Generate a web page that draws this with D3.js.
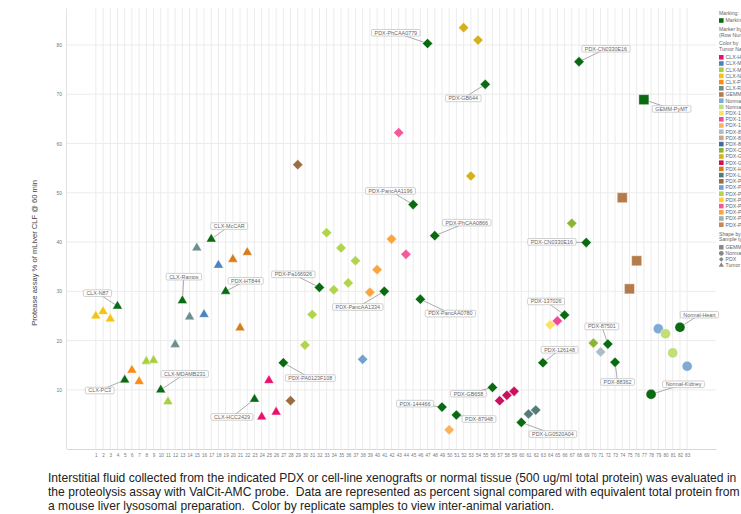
<!DOCTYPE html>
<html>
<head>
<meta charset="utf-8">
<script src="https://cdn.jsdelivr.net/npm/d3@7"></script>
<style>
  body { margin: 0; background: #fff; }
  text { font-family: "Liberation Sans", Arial, sans-serif; }
</style>
</head>
<body>
<script>
// row numbers on the x axis
const rowNums = d3.range(1, 84);

// protease assay value per row (% of mLiver CLF @ 60 min)
const values = [
  25.0, 25.9, 24.4, 27.0, 12.0, 14.0, 11.7, 15.8, 16.0, 10.0,
  7.6, 19.2, 28.1, 24.8, 38.8, 25.3, 40.6, 35.3, 30.0, 36.5,
  22.6, 37.9, 8.1, 4.5, 11.9, 5.5, 15.5, 7.8, 55.7, 19.1,
  25.3, 30.8, 41.9, 30.3, 38.8, 31.7, 36.2, 16.2, 29.8, 34.4,
  30.0, 40.6, 62.2, 37.5, 47.6, 28.4, 80.3, 41.3, 6.5, 1.9,
  4.9, 83.5, 53.4, 81.0, 72.0, 10.5, 7.8, 8.9, 9.7, 3.4,
  5.1, 5.9, 15.5, 23.2, 24.0, 25.2, 43.8, 76.6, 39.9, 19.5,
  17.7, 19.3, 15.6, 49.0, 30.5, 36.2, 68.9, 9.1, 22.4, 21.4,
  17.5, 22.7, 14.8
];

// legend order of tumor names and their colours
const tumorNames = [
  "CLX-HCC2429", "CLX-McCAR", "CLX-MDAMB231", "CLX-N87", "CLX-PC3", "CLX-Ramos",
  "GEMM-PyMT", "Normal-Heart", "Normal-Kidney", "PDX-126148", "PDX-137026",
  "PDX-144466", "PDX-87501", "PDX-87948", "PDX-88362", "PDX-CN0330E16",
  "PDX-GB644", "PDX-GB658", "PDX-HT844", "PDX-LG0520A04", "PDX-PA0123F108",
  "PDX-Pa166926", "PDX-PancAA0780", "PDX-PancAA1196", "PDX-PancAA1334",
  "PDX-PhCAA0779", "PDX-PhCAA0866", "PDX-PhCAA0998"
];
const tumorColors = [
  "#e8126e", "#4a83c2", "#a8d03e", "#f3c512", "#fa8c14", "#6b8f8d",
  "#b57b4a", "#80aad6", "#c2de78", "#fbe064", "#f2479b",
  "#fbb25e", "#a9bec6", "#c9a687", "#3e6ca8", "#8cb536",
  "#d5b21c", "#c9115e", "#d87b1a", "#557b79", "#9c6c42",
  "#72a0d2", "#b0d44c", "#f7d327", "#f5589c",
  "#f9a43c", "#9cb2b4", "#c38a5a"
];

// tumor of each row
const rowTumor = [
  "CLX-N87", "CLX-N87", "CLX-N87", "CLX-N87",
  "CLX-PC3", "CLX-PC3", "CLX-PC3",
  "CLX-MDAMB231", "CLX-MDAMB231", "CLX-MDAMB231", "CLX-MDAMB231",
  "CLX-Ramos", "CLX-Ramos", "CLX-Ramos", "CLX-Ramos",
  "CLX-McCAR", "CLX-McCAR", "CLX-McCAR",
  "PDX-HT844", "PDX-HT844", "PDX-HT844", "PDX-HT844",
  "CLX-HCC2429", "CLX-HCC2429", "CLX-HCC2429", "CLX-HCC2429",
  "PDX-PA0123F108", "PDX-PA0123F108", "PDX-PA0123F108",
  "PDX-PancAA0780", "PDX-PancAA0780", "PDX-Pa166926", "PDX-PancAA0780",
  "PDX-PancAA0780", "PDX-PancAA0780", "PDX-PancAA0780", "PDX-PancAA0780",
  "PDX-Pa166926", "PDX-PhCAA0779", "PDX-PhCAA0779", "PDX-PancAA1334",
  "PDX-PhCAA0779", "PDX-PancAA1334", "PDX-PancAA1334", "PDX-PancAA1196",
  "PDX-PancAA0780", "PDX-PhCAA0779", "PDX-PhCAA0866",
  "PDX-144466", "PDX-144466", "PDX-87948",
  "PDX-GB644", "PDX-GB644", "PDX-GB644", "PDX-GB644",
  "PDX-GB658", "PDX-GB658", "PDX-GB658", "PDX-GB658",
  "PDX-LG0520A04", "PDX-LG0520A04", "PDX-LG0520A04",
  "PDX-126148", "PDX-126148", "PDX-137026", "PDX-137026",
  "PDX-CN0330E16", "PDX-CN0330E16", "PDX-CN0330E16", "PDX-CN0330E16",
  "PDX-87501", "PDX-87501", "PDX-88362",
  "GEMM-PyMT", "GEMM-PyMT", "GEMM-PyMT", "GEMM-PyMT",
  "Normal-Kidney", "Normal-Heart", "Normal-Kidney", "Normal-Kidney",
  "Normal-Heart", "Normal-Heart"
];

// sample type of each row: T = Tumor, P = PDX, G = GEMM, N = Normal
const rowSample = (
  "TTTTTTTTTTTTTTTTTTTTTTTTTT" +
  "PPPPPPPPPPPPPPPPPPPPPPPPPPPPPPPPPPPPPPPPPPPPPPP" +
  "GGGG" + "NNNNNN").split("");

const sampleTypes = ["GEMM", "Normal", "PDX", "Tumor"];

// marked rows (drawn dark green, with a label)
const markedRows = [4, 5, 10, 13, 17, 19, 23, 27, 32, 41, 45, 46, 47, 48, 49, 51,
  55, 56, 60, 63, 66, 68, 69, 72, 73, 77, 78, 82];

// label box offsets from the marker, in px (layout only)
const labelOffset = {
  4: [-20, -13], 5: [-25, 10.5], 10: [24, -16], 13: [1.5, -24], 17: [18, -13],
  19: [20, -10.5], 23: [-22.5, 17.7], 27: [27, 15.3], 32: [-26, -13], 41: [-26.5, 15.7],
  45: [-22.7, -13.7], 46: [30, 14.4], 47: [-31.7, -10.7], 48: [32, -13], 49: [-27, -3.5],
  51: [22.6, 4], 55: [-22, 14], 56: [-24, 6.3], 60: [31.6, 11.7], 63: [16.7, -13],
  66: [-18.5, -13.5], 68: [27, -13], 69: [-34.3, -0.7], 72: [-6, -17.6], 73: [2.5, 19.7],
  77: [27.7, 9.3], 78: [32.4, -10], 82: [19.5, -12.6]
};

const yTicks = [10, 20, 30, 40, 50, 60, 70, 80];

const caption = [
  "Interstitial fluid collected from the indicated PDX or cell-line xenografts or normal tissue (500 ug/ml total protein) was evaluated in",
  "the proteolysis assay with ValCit-AMC probe.  Data are represented as percent signal compared with equivalent total protein from",
  "a mouse liver lysosomal preparation.  Color by replicate samples to view inter-animal variation."
];

const markColor = "#0a6a12";

let width = 741, height = 514;
let plot = {left: 66, right: 716, top: 8, bottom: 449};

let svg = d3.select("body").append("svg")
  .attr("width", width)
  .attr("height", height)
  .style("display", "block");

let xScale = d3.scalePoint()
  .domain(rowNums)
  .range([plot.left + 1, plot.right])
  .padding(4);

let yScale = d3.scaleLinear()
  .domain([-2, 87.5])
  .range([plot.bottom, plot.top]);

let colorScale = d3.scaleOrdinal().domain(tumorNames).range(tumorColors);

// grid
let grid = svg.append("g");
grid.selectAll(".vg")
  .data(rowNums)
  .enter().append("line")
    .attr("x1", d => xScale(d)).attr("x2", d => xScale(d))
    .attr("y1", plot.top).attr("y2", plot.bottom)
    .attr("stroke", "#ececec").attr("stroke-width", 1);
grid.selectAll(".hg")
  .data(yTicks)
  .enter().append("line")
    .attr("x1", plot.left).attr("x2", plot.right)
    .attr("y1", d => yScale(d)).attr("y2", d => yScale(d))
    .attr("stroke", "#ececec").attr("stroke-width", 1);

// axes
const xAxis = d3.axisBottom(xScale).tickSize(0).tickPadding(5);
const yAxis = d3.axisLeft(yScale).tickValues(yTicks).tickSize(0).tickPadding(4);

let gx = svg.append("g")
  .attr("transform", `translate(0, ${plot.bottom})`)
  .call(xAxis);
gx.select(".domain").attr("stroke", "#d8d8d8");
gx.selectAll("text").attr("fill", "#777").style("font-size", "4.6px");

let gy = svg.append("g")
  .attr("transform", `translate(${plot.left}, 0)`)
  .call(yAxis);
gy.select(".domain").attr("stroke", "#e2e2e2");
gy.selectAll("text").attr("fill", "#777").style("font-size", "5px");

svg.append("text")
  .attr("transform", "translate(37, 253) rotate(-90)")
  .attr("text-anchor", "middle")
  .attr("fill", "#444")
  .style("font-size", "7.6px")
  .text("Protease assay % of mLiver CLF @ 60 min");

// data rows
let data = rowNums.map((r, i) => ({
  row: r,
  value: values[i],
  tumor: rowTumor[i],
  sample: rowSample[i],
  marked: markedRows.includes(r)
}));

const shapeOf = {
  G: d3.symbol().type(d3.symbolSquare).size(100)(),
  N: d3.symbol().type(d3.symbolCircle).size(80)(),
  P: d3.symbol().type(d3.symbolSquare).size(52)(),
  T: d3.symbol().type(d3.symbolTriangle).size(42)()
};

// leader lines first
let labelled = data.filter(d => d.marked);
let leaders = svg.append("g");
leaders.selectAll("line")
  .data(labelled)
  .enter().append("line")
    .attr("x1", d => xScale(d.row))
    .attr("y1", d => yScale(d.value))
    .attr("x2", d => xScale(d.row) + labelOffset[d.row][0])
    .attr("y2", d => yScale(d.value) + labelOffset[d.row][1])
    .attr("stroke", "#888").attr("stroke-width", 0.7);

// markers
svg.append("g").selectAll("path")
  .data(data)
  .enter().append("path")
    .attr("d", d => shapeOf[d.sample])
    .attr("transform", d => `translate(${xScale(d.row)}, ${yScale(d.value)})` + (d.sample === "P" ? " rotate(45)" : ""))
    .attr("fill", d => d.marked ? markColor : colorScale(d.tumor))
    .attr("stroke", "#fff").attr("stroke-width", 0.4);

// label boxes
let lab = svg.append("g").selectAll("g")
  .data(labelled)
  .enter().append("g")
    .attr("transform", d => `translate(${xScale(d.row) + labelOffset[d.row][0]}, ${yScale(d.value) + labelOffset[d.row][1]})`);
lab.append("rect");
lab.append("text")
  .attr("text-anchor", "middle")
  .attr("dy", "0.35em")
  .attr("fill", "#666")
  .style("font-size", "5.4px")
  .text(d => d.tumor);
lab.each(function() {
  let g = d3.select(this);
  let w = g.select("text").node().getComputedTextLength() + 6;
  g.select("rect")
    .attr("x", -w / 2).attr("y", -3.3)
    .attr("width", w).attr("height", 6.6)
    .attr("rx", 1.2)
    .attr("fill", "#fff").attr("stroke", "#bbb").attr("stroke-width", 0.7);
});

// legend (cut off by the right edge, as in the original export)
let lg = svg.append("g").attr("transform", "translate(719, 0)");
let legText = (y, t) => lg.append("text")
  .attr("x", 0).attr("y", y).attr("dy", "0.35em")
  .attr("fill", "#666").style("font-size", "5.2px").text(t);

legText(13.3, "Marking:");
lg.append("rect").attr("x", 0).attr("y", 18.2).attr("width", 4.6).attr("height", 4.6).attr("fill", markColor);
lg.append("text").attr("x", 6.5).attr("y", 20.5).attr("dy", "0.35em")
  .attr("fill", "#666").style("font-size", "5.2px").text("Marking");
legText(29.3, "Marker by");
legText(34.7, "(Row Number)");
legText(43.3, "Color by");
legText(48.7, "Tumor Name");

let step = 6.2;
let items = lg.selectAll(".item")
  .data(tumorNames)
  .enter().append("g")
    .attr("transform", (d, i) => `translate(0, ${57.3 + i * step})`);
items.append("rect")
  .attr("x", 0).attr("y", -2.3).attr("width", 4.6).attr("height", 4.6)
  .attr("fill", d => colorScale(d));
items.append("text")
  .attr("x", 6.5).attr("dy", "0.35em")
  .attr("fill", "#666").style("font-size", "5.2px")
  .text(d => d);

legText(234, "Shape by");
legText(239.3, "Sample type");
let shapesLeg = lg.selectAll(".shp")
  .data(sampleTypes)
  .enter().append("g")
    .attr("transform", (d, i) => `translate(0, ${247.3 + i * 6})`);
shapesLeg.append("path")
  .attr("d", (d, i) => d3.symbol().type([d3.symbolSquare, d3.symbolCircle, d3.symbolSquare, d3.symbolTriangle][i]).size([20, 18, 11, 12][i])())
  .attr("transform", (d, i) => `translate(2.3, 0)` + (i === 2 ? " rotate(45)" : ""))
  .attr("fill", "#888");
shapesLeg.append("text")
  .attr("x", 6.5).attr("dy", "0.35em")
  .attr("fill", "#666").style("font-size", "5.2px")
  .text(d => d);

// caption
svg.append("g").selectAll("text")
  .data(caption)
  .enter().append("text")
    .attr("x", 48)
    .attr("y", (d, i) => 482 + i * 14)
    .attr("fill", "#222")
    .style("font-size", "12.1px")
    .style("white-space", "pre")
    .text(d => d);
</script>
</body>
</html>
